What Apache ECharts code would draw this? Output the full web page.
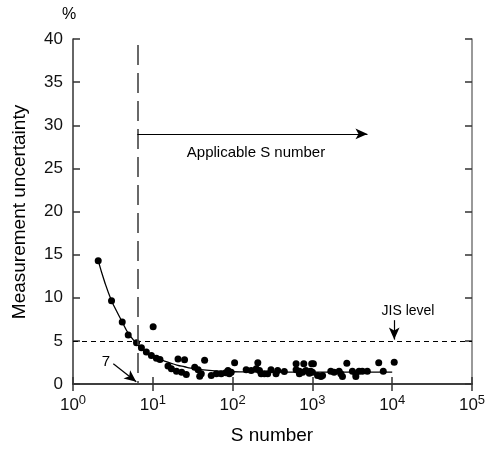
<!DOCTYPE html>
<html>
<head>
<meta charset="utf-8">
<script src="https://cdn.jsdelivr.net/npm/echarts@6/dist/echarts.min.js"></script>
<style>html,body{margin:0;padding:0;background:#fff;}#c{width:491px;height:449px;}</style>
</head>
<body>
<div id="c"></div>
<script>
// S number (x) and measurement uncertainty % (y) of measured points
var pointsX = [2.07,3.04,4.14,4.92,6.25,7.2,8.3,9.6,11.1,12.3,10.1,
  20.7,25,44.6,15.5,17.1,19.8,23,26.3,33.5,37,40.5,38.7,54,62.6,72,82,87.5,
  106,91,96,148,171,198,207,217,228,250,275,303,350,367,445,
  625,780,980,625,687,755,830,915,1000,687,
  1030,950,1160,1280,1340,1700,1870,2160,2380,2700,2270,3170,3500,3500,3840,4220,4880,6780,7730,10600];
var pointsY = [14.3,9.66,7.2,5.68,4.79,4.2,3.7,3.3,3.0,2.85,6.64,
  2.9,2.8,2.75,2.1,1.76,1.49,1.37,1.1,1.95,1.65,1.2,0.9,0.99,1.18,1.18,1.3,1.57,
  2.45,1.18,1.37,1.65,1.57,1.76,2.45,1.57,1.18,1.18,1.18,1.65,1.18,1.57,1.45,
  2.34,2.34,2.34,1.65,1.49,1.37,1.57,1.25,1.37,1.18,
  2.34,1.49,0.99,0.87,0.99,1.49,1.37,1.49,0.87,2.4,1.18,1.49,1.18,0.87,1.49,1.49,1.49,2.45,1.49,2.53];
// fitted curve
var curveX = [2.07,2.5,3.04,3.5,4.14,4.92,6.25,7.2,8.3,10,12,14,17,20,25,30,47,83,150,300,1000,3000,10000];
var curveY = [14.3,11.8,9.66,8.5,7.2,5.9,4.7,4.1,3.6,3.1,2.85,2.65,2.4,2.2,2.0,1.85,1.6,1.45,1.4,1.38,1.37,1.37,1.37];
var xTickExp = ['0','1','2','3','4','5'];
var yTicks = [0,5,10,15,20,25,30,35,40];
var jisLevel = 5;
var applicableS = 6.4;
var arrowApplicable = [[6.4,29.0],[4900,29.0]];
var arrowJIS = [[10600,7.4],[10600,5.15]];
var arrow7 = [[3.2,2.35],[6.2,0.25]];

var pts = pointsX.map(function(x,i){return [x,pointsY[i]];});
var curve = curveX.map(function(x,i){return [x,curveY[i]];});
var FONT = '"Liberation Sans", Arial, sans-serif';
var chart = echarts.init(document.getElementById('c'), null, {renderer:'canvas'});
var axLine = {show:true, lineStyle:{color:'#333', width:1.5}};
var tick = {show:true, inside:true, length:7, lineStyle:{color:'#333', width:1.5}};
chart.setOption({
  animation:false,
  backgroundColor:'#fff',
  grid:{left:73, right:19, top:39, bottom:65, containLabel:false},
  xAxis:[{
    type:'log', logBase:10, min:1, max:100000,
    axisLine:axLine, axisTick:tick, minorTick:{show:false}, splitLine:{show:false},
    axisLabel:{margin:10, color:'#111', fontFamily:FONT, fontSize:17,
      formatter:function(v){var e=Math.round(Math.log10(v));return '10{s|'+xTickExp[e]+'}';},
      rich:{s:{fontSize:13, fontFamily:FONT, color:'#111', verticalAlign:'top', padding:[0,0,10,0]}}}
  },{
    type:'log', logBase:10, min:1, max:100000, position:'top',
    axisLine:axLine, axisTick:tick, axisLabel:{show:false}, splitLine:{show:false}
  }],
  yAxis:[{
    type:'value', min:0, max:40, interval:5,
    axisLine:axLine, axisTick:tick, splitLine:{show:false},
    axisLabel:{margin:10, color:'#111', fontFamily:FONT, fontSize:17,
      formatter:function(v){return yTicks.indexOf(v)>=0?String(v):'';}}
  },{
    type:'value', min:0, max:40, interval:5, position:'right',
    axisLine:{show:true, lineStyle:{color:'#777', width:1.5}}, axisTick:tick, axisLabel:{show:false}, splitLine:{show:false}
  }],
  series:[{
    type:'line', data:curve, smooth:true, symbol:'none',
    lineStyle:{color:'#000', width:1.3}, z:2,
    markLine:{silent:true, symbol:'none', label:{show:false}, animation:false,
      data:[
        [{coord:[1,jisLevel], lineStyle:{type:[5,4], color:'#000', width:1.2}},{coord:[100000,jisLevel]}],
        [{coord:[applicableS,39.3], lineStyle:{type:[20,8], color:'#444', width:1.6}},{coord:[applicableS,0]}]
      ]}
  },{
    type:'line', data:[], markLine:{silent:true, symbol:['none','arrow'], symbolSize:[8,12], label:{show:false}, animation:false,
      lineStyle:{color:'#000', width:1.2, type:'solid'},
      data:[
        [{coord:arrowApplicable[0]},{coord:arrowApplicable[1]}],
        [{coord:arrowJIS[0]},{coord:arrowJIS[1]}],
        [{coord:arrow7[0]},{coord:arrow7[1]}]
      ]}
  },{
    type:'scatter', data:pts, symbol:'circle', symbolSize:7,
    itemStyle:{color:'#000', opacity:1}, z:3
  }],
  graphic:[
    {type:'text', left:62, top:7, style:{text:'%', font:'16px '+FONT, fill:'#000'}},
    {type:'text', x:20, y:212, rotation:Math.PI/2, style:{text:'Measurement uncertainty', font:'19px '+FONT, fill:'#000', textAlign:'center', textVerticalAlign:'middle'}},
    {type:'text', x:272, y:436, style:{text:'S number', font:'19px '+FONT, fill:'#000', textAlign:'center', textVerticalAlign:'middle'}},
    {type:'text', x:256, y:153, style:{text:'Applicable S number', font:'15px '+FONT, fill:'#000', textAlign:'center', textVerticalAlign:'middle'}},
    {type:'text', x:408, y:311, style:{text:'JIS level', font:'14px '+FONT, fill:'#000', textAlign:'center', textVerticalAlign:'middle'}},
    {type:'text', x:106, y:362, style:{text:'7', font:'15px '+FONT, fill:'#000', textAlign:'center', textVerticalAlign:'middle'}}
  ]
});
</script>
</body>
</html>
